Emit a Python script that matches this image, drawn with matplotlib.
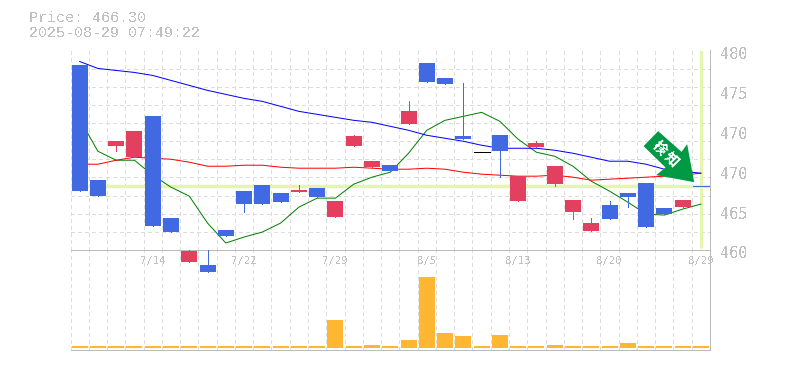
import matplotlib
matplotlib.use("Agg")
import matplotlib.pyplot as plt
import matplotlib.transforms as mtransforms
from matplotlib.patches import Polygon

W, H = 785, 370

price = "466.30"
stamp = "2025-08-29 07:49:22"

# body top, body bottom, high, low
body_top = [478.5, 467.0, 470.9, 471.9, 473.4, 463.2, 459.9, 458.5, 462.0, 465.9, 466.5, 465.7,
            466.0, 466.2, 464.9, 471.4, 468.9, 468.5, 473.9, 478.7, 477.2, 471.4, 469.8, 471.5,
            467.4, 470.7, 468.4, 465.0, 462.7, 464.5, 465.7, 466.7, 464.2, 465.0, 466.4]
body_bot = [465.9, 465.4, 470.4, 469.3, 462.4, 461.8, 458.8, 457.8, 461.4, 464.6, 464.6, 464.8,
            465.8, 465.3, 463.3, 470.4, 468.3, 467.9, 472.6, 476.8, 476.6, 471.1, 469.8, 469.9,
            464.9, 470.3, 466.6, 463.8, 461.9, 463.1, 465.3, 462.3, 463.6, 464.3, 466.4]
high = [478.5, 467.0, 470.9, 471.9, 473.4, 463.2, 460.0, 460.0, 462.0, 465.9, 466.5, 465.7,
        466.5, 466.2, 464.9, 471.5, 468.9, 468.5, 474.9, 478.7, 477.2, 476.7, 469.8, 471.5,
        467.4, 470.9, 468.4, 465.0, 463.2, 464.9, 465.7, 466.7, 464.2, 465.0, 466.4]
low = [465.9, 465.4, 469.9, 469.3, 462.4, 461.8, 458.8, 457.8, 461.4, 463.8, 464.6, 464.8,
       465.8, 465.3, 463.3, 470.4, 468.3, 467.9, 472.6, 476.8, 476.6, 471.1, 469.8, 467.3,
       464.9, 470.3, 466.4, 463.1, 461.9, 463.1, 464.3, 462.3, 463.6, 464.3, 466.4]
kinds = list("bbrrbbrbbbbbrbrrrbrbbbkbrrrrrbbbbrb")

ma_green = [473.1, 469.9, 469.0, 469.0, 467.5, 466.3, 465.4, 462.7, 460.7, 461.3, 461.8, 462.7,
            464.3, 465.2, 465.2, 466.6, 467.3, 467.8, 469.7, 472.0, 473.0, 473.4, 473.8, 472.9,
            471.1, 469.8, 469.4, 468.4, 466.9, 465.9, 464.8, 463.6, 463.5, 464.1, 464.6]
ma_red = [468.6, 468.6, 469.0, 469.3, 469.2, 469.1, 468.8, 468.4, 468.4, 468.5, 468.5, 468.3,
          468.2, 468.2, 468.2, 468.3, 468.2, 468.1, 468.1, 468.2, 468.1, 467.8, 467.6, 467.5,
          467.4, 467.4, 467.5, 467.3, 467.0, 467.1, 467.2, 467.3, 467.4, 467.5, 467.7]
ma_blue = [478.9, 478.2, 478.0, 477.8, 477.5, 477.0, 476.5, 476.0, 475.6, 475.2, 474.9, 474.4,
           473.9, 473.6, 473.3, 473.0, 472.8, 472.4, 472.0, 471.5, 471.2, 470.9, 470.5, 470.2,
           470.2, 470.2, 470.0, 469.7, 469.3, 468.9, 468.9, 468.6, 468.1, 467.9, 467.7]
volume = [2, 2, 2, 2, 2, 2, 2, 2, 2, 2, 2, 2, 2, 2, 28, 2, 3, 2, 8, 71, 15, 12, 2, 13, 2, 2, 3,
          2, 2, 2, 5, 2, 2, 2, 2]

date_pos = [4, 9, 14, 19, 24, 29, 34]
date_labels = ["7/14", "7/22", "7/29", "8/5", "8/13", "8/20", "8/29"]
price_ticks = [460, 464, 468, 472, 476, 480]
price_labels = ["460", "465", "470", "470", "475", "480"]

colors = {"b": "#4169e1", "r": "#e3405f", "k": "#000000"}
GRID = "#dddddd"
FRAME = "#bbbbbb"
TEXT = "#c0c0c0"
PALE = "#e4f5ae"
LW = 0.72  # one pixel at dpi 100
LEFT, RIGHT, TOP, MID, BOTTOM = 70.5, 710, 50.5, 250, 350
N = len(volume)

plt.rcParams["text.antialiased"] = False
fig = plt.figure(figsize=(W / 100, H / 100), dpi=100)
vax = fig.add_axes([LEFT / W, 1 - BOTTOM / H, (RIGHT - LEFT) / W, (BOTTOM - MID) / H], zorder=1)
ax = fig.add_axes([LEFT / W, 1 - MID / H, (RIGHT - LEFT) / W, (MID - TOP) / H], zorder=2)

ax.set_xlim(-0.5, N - 0.5)
ax.set_ylim(460, 480)
vax.set_xlim(-0.5, N - 0.5)
vax.set_ylim(-2, 98)
ax.patch.set_alpha(0)
vax.patch.set_alpha(0)

xs = list(range(N))
dash = (0, (3, 3))

# grid: 35 slots across, 11 rows down
for a, y0, y1 in ((ax, 460, 480), (vax, -2, 98)):
    for i in range(N):
        a.plot([i - 0.5, i - 0.5], [y0, y1], color=GRID, lw=LW, ls=dash, aa=False, zorder=1)
for k in range(1, 12):
    y = 460 + k * 20 / 11
    ax.plot([-0.5, N - 0.5], [y, y], color=GRID, lw=LW, ls=dash, aa=False, zorder=1)

ax.axhline(float(price) + 0.1, color=PALE, lw=2.5, zorder=2, solid_capstyle="butt")
ax.plot([N - 1, N - 1], [460.2, 480], color=PALE, lw=2.2, zorder=2, solid_capstyle="butt")

ax.plot(xs, ma_green, color="#008000", lw=LW, zorder=3)
ax.plot(xs, ma_red, color="#ff0000", lw=LW, zorder=3)
ax.plot(xs, ma_blue, color="#0000ff", lw=LW, zorder=3)

for i in xs:
    c = colors[kinds[i]]
    ax.plot([i, i], [low[i], high[i]], color=c, lw=LW, aa=False, zorder=4, clip_on=False,
            solid_capstyle="butt")
    h = body_top[i] - body_bot[i]
    if h > 0:
        ax.bar(i, h, bottom=body_bot[i], width=0.875, color=c, lw=0, zorder=5, clip_on=False)
    else:
        ax.plot([i - 0.44, i + 0.44], [body_top[i], body_top[i]], color=c, lw=LW, aa=False, zorder=5,
                clip_on=False, solid_capstyle="butt")

vax.bar(xs, volume, width=0.875, color="#ffb733", lw=0, zorder=3)

for a in (ax, vax):
    for s in a.spines.values():
        s.set_visible(False)
    a.set_xticks([])
    a.set_yticks([])
ax.plot([-0.5, N - 0.5], [460, 460], color=FRAME, lw=LW, aa=False, zorder=2.5, clip_on=False)
vax.plot([-0.5, N - 0.5], [-2, -2], color=FRAME, lw=LW, aa=False, zorder=4, clip_on=False)
vax.plot([N - 0.5, N - 0.5], [-2, 98], color=FRAME, lw=LW, aa=False, zorder=4, clip_on=False)
ax.plot([N - 0.5, N - 0.5], [460, 480], color=FRAME, lw=LW, aa=False, zorder=4, clip_on=False)

fig.text(29 / W, 1 - 18 / H, f"Price: {price}", color=TEXT, fontsize=10.8, family="Liberation Mono",
         va="center")
fig.text(29 / W, 1 - 33 / H, stamp, color=TEXT, fontsize=10.8, family="Liberation Mono", va="center")

for p, lab in zip(price_ticks, price_labels):
    ax.annotate(lab, (N - 0.5, p), xytext=(7.2, -4 * 0.72), textcoords="offset points", color=TEXT,
                fontsize=11, family="DejaVu Sans Mono", va="center", annotation_clip=False)
for p, lab in zip(date_pos, date_labels):
    vax.annotate(lab, (p, 98), xytext=(0, -11 * 0.72), textcoords="offset points", color=TEXT,
                 fontsize=7.6, family="DejaVu Sans Mono", ha="center", va="center",
                 annotation_clip=False)

# signal arrow, pixel offsets from the last candle
fig.canvas.draw()
ax0, ay0 = ax.transData.transform((N - 1, body_top[-1]))
arrow = [(-57.3, 40), (-42.7, 55), (-19.3, 34.3), (-13.7, 42), (-6.7, 4), (-44.7, 11), (-35.3, 18.7)]
to_px = mtransforms.Affine2D().translate(ax0, ay0)
fig.add_artist(Polygon(arrow, closed=True, fc="#009a44", ec="none", transform=to_px, zorder=10))
for ch, dx, dy in (("検", -42, 38), ("知", -30, 26)):
    fig.text((ax0 + dx) / W, (ay0 + dy) / H, ch, color="white", fontsize=10,
             family=["Noto Sans CJK JP", "DejaVu Sans"], weight="bold", rotation=-45,
             rotation_mode="anchor", ha="center", va="center", zorder=11)

fig.savefig("out.png", dpi=100)
